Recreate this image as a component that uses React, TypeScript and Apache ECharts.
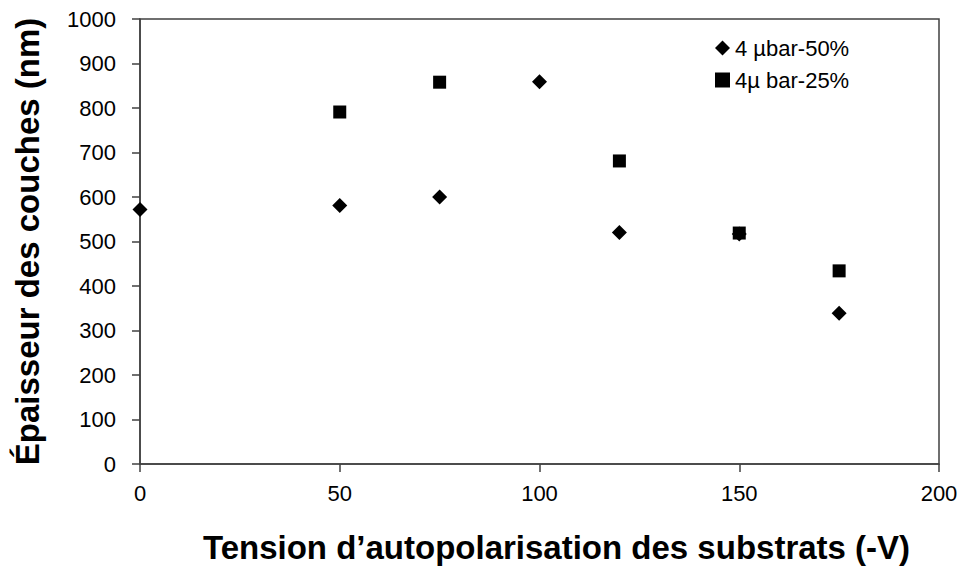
import React, { useEffect, useRef } from "react";
import * as echarts from "echarts";

const seriesNames = ["4 µbar-50%", "4µ bar-25%"];
const diamondX = [0, 50, 75, 100, 120, 150, 175];
const diamondY = [572, 581, 600, 859, 520, 517, 339];
const squareX = [50, 75, 120, 150, 175];
const squareY = [791, 858, 681, 519, 434];
const xTitle = "Tension d’autopolarisation des substrats (-V)";
const yTitle = "Épaisseur des couches (nm)";

export default function App() {
  const ref = useRef<HTMLDivElement>(null);
  useEffect(() => {
    if (!ref.current) return;
    const chart = echarts.init(ref.current, null, { renderer: "svg" });
    const font = "Liberation Sans, Arial, sans-serif";
    chart.setOption({
      animation: false,
      backgroundColor: "#ffffff",
      textStyle: { fontFamily: font },
      grid: {
        left: 140,
        top: 19,
        right: 25,
        bottom: 104,
        show: true,
        borderColor: "#404040",
        borderWidth: 1.5,
      },
      legend: {
        orient: "vertical",
        left: 710,
        top: 32,
        itemWidth: 15,
        itemHeight: 15,
        itemGap: 10,
        textStyle: { fontSize: 22, color: "#000", fontFamily: font },
        data: [
          { name: seriesNames[0], icon: "diamond" },
          { name: seriesNames[1], icon: "rect" },
        ],
      },
      xAxis: {
        type: "value",
        min: 0,
        max: 200,
        interval: 50,
        name: xTitle,
        nameLocation: "middle",
        nameGap: 67,
        nameTextStyle: {
          fontSize: 33,
          fontWeight: "bold",
          color: "#000",
          fontFamily: font,
          padding: [0, 0, 0, 34],
        },
        axisLine: { show: true, lineStyle: { color: "#404040", width: 1.5 } },
        axisTick: { show: true, inside: false, length: 8, lineStyle: { color: "#404040", width: 1.5 } },
        axisLabel: { fontSize: 22, color: "#000", margin: 18, fontFamily: font, formatter: (v: number) => String(v) },
        splitLine: { show: false },
      },
      yAxis: {
        type: "value",
        min: 0,
        max: 1000,
        interval: 100,
        name: yTitle,
        nameLocation: "middle",
        nameGap: 96,
        nameRotate: 90,
        nameTextStyle: { fontSize: 33, fontWeight: "bold", color: "#000", fontFamily: font },
        axisLine: { show: true, lineStyle: { color: "#404040", width: 1.5 } },
        axisTick: { show: true, inside: false, length: 8, lineStyle: { color: "#404040", width: 1.5 } },
        axisLabel: { fontSize: 22, color: "#000", margin: 24, fontFamily: font, formatter: (v: number) => String(v) },
        splitLine: { show: false },
      },
      series: [
        {
          name: seriesNames[0],
          type: "scatter",
          symbol: "diamond",
          symbolSize: 15,
          itemStyle: { color: "#000", opacity: 1 },
          data: diamondX.map((x, i) => [x, diamondY[i]]),
        },
        {
          name: seriesNames[1],
          type: "scatter",
          symbol: "rect",
          symbolSize: 13,
          itemStyle: { color: "#000", opacity: 1 },
          data: squareX.map((x, i) => [x, squareY[i]]),
        },
      ],
    });
    return () => chart.dispose();
  }, []);
  return <div ref={ref} style={{ width: 964, height: 569, position: "absolute", left: 0, top: 0 }} />;
}
